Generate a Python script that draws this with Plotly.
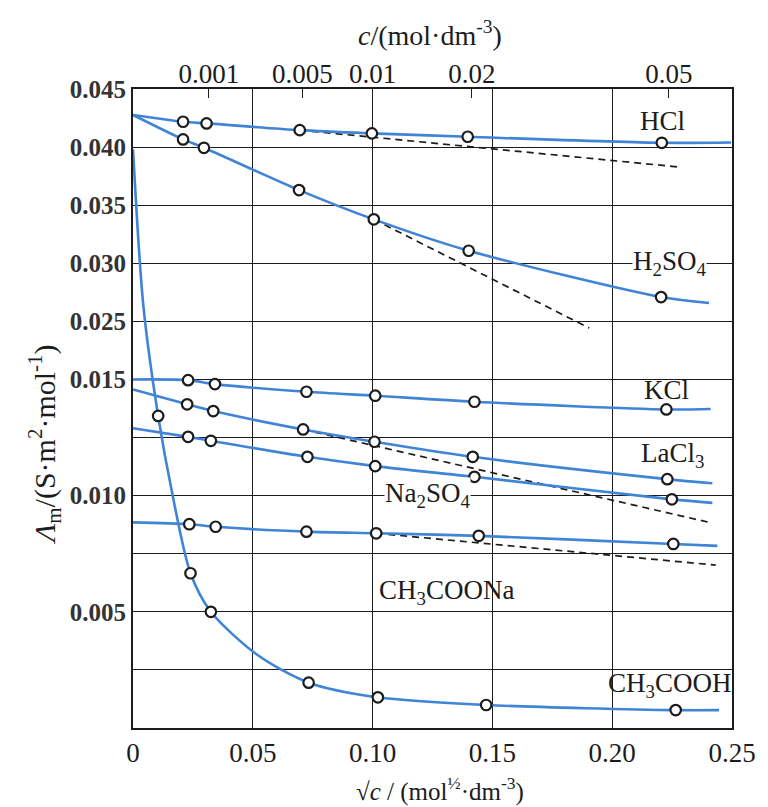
import numpy as np
import plotly.graph_objects as go

# ---------------- axis data ----------------
c_ticks = [0.001, 0.005, 0.01, 0.02, 0.05]
c_labels = ["0.001", "0.005", "0.01", "0.02", "0.05"]
x_ticks = [0, 0.05, 0.10, 0.15, 0.20, 0.25]
x_labels = ["0", "0.05", "0.10", "0.15", "0.20", "0.25"]
y_major = [0.005, 0.010, 0.015, 0.025, 0.030, 0.035, 0.040, 0.045]
y_labels = ["0.005", "0.010", "0.015", "0.025", "0.030", "0.035", "0.040", "0.045"]
y_minor = [0.0025, 0.0075, 0.0125]

# ---------------- series data (sqrt(c), Lambda_m) ----------------
hcl_x = [0.0209, 0.0307, 0.0696, 0.0997, 0.1397, 0.2207]
hcl_y = [0.04218, 0.04204, 0.04146, 0.04118, 0.04089, 0.04037]
hcl_ends = [(0.0, 0.04276), (0.2496, 0.04040)]

h2so4_x = [0.0209, 0.0296, 0.0693, 0.1005, 0.1401, 0.2204]
h2so4_y = [0.04066, 0.03994, 0.03630, 0.03378, 0.03108, 0.02709]
h2so4_ends = [(0.0, 0.04276), (0.2404, 0.02658)]

kcl_x = [0.0230, 0.0342, 0.0724, 0.1011, 0.1425, 0.2226]
kcl_y = [0.01497, 0.01480, 0.01447, 0.01430, 0.01404, 0.01371]
kcl_ends = [(0.0, 0.01500), (0.2411, 0.01373)]

lacl3_x = [0.0226, 0.0335, 0.0710, 0.1008, 0.1418, 0.2230]
lacl3_y = [0.01393, 0.01364, 0.01285, 0.01232, 0.01167, 0.01071]
lacl3_ends = [(0.0, 0.01457), (0.2418, 0.01053)]

na2so4_x = [0.0230, 0.0325, 0.0728, 0.1011, 0.1425, 0.2249]
na2so4_y = [0.01253, 0.01236, 0.01167, 0.01127, 0.01081, 0.00984]
na2so4_ends = [(0.0, 0.01290), (0.2418, 0.00969)]

ch3coona_x = [0.0235, 0.0345, 0.0724, 0.1015, 0.1443, 0.2255]
ch3coona_y = [0.00877, 0.00866, 0.00845, 0.00838, 0.00827, 0.00792]
ch3coona_ends = [(0.0, 0.00885), (0.2439, 0.00784)]

ch3cooh_x = [0.0105, 0.0240, 0.0325, 0.0733, 0.1022, 0.1474, 0.2265]
ch3cooh_y = [0.01343, 0.00666, 0.00500, 0.00195, 0.00132, 0.00099, 0.00077]
# points (incl. its steep part)
ch3cooh_curve_x = [0.0, 0.0043, 0.0105, 0.0161, 0.0240, 0.0325, 0.0520, 0.0733, 0.1022, 0.1474, 0.2265, 0.2446]
ch3cooh_curve_y = [0.0398, 0.02640, 0.01343, 0.01024, 0.00666, 0.00500, 0.00314, 0.00195, 0.00132, 0.00099, 0.00077, 0.00077]

# limiting-law dashed lines (start, end)
hcl_dash = [(0.0696, 0.04146), (0.2272, 0.03830)]
h2so4_dash = [(0.1005, 0.03378), (0.1904, 0.02385)]
lacl3_dash = [(0.0710, 0.01285), (0.2418, 0.00882)]
ch3coona_dash = [(0.1015, 0.00838), (0.2432, 0.00701)]

# curve labels: (text, sqrt(c), Lambda_m, white background)
labels = [
    ("HCl", 0.221, 0.04225, False),
    ("H<sub>2</sub>SO<sub>4</sub>", 0.2238, 0.03001, True),
    ("KCl", 0.2225, 0.01454, False),
    ("LaCl<sub>3</sub>", 0.225, 0.01175, False),
    ("Na<sub>2</sub>SO<sub>4</sub>", 0.1229, 0.01003, True),
    ("CH<sub>3</sub>COONa", 0.131, 0.00585, False),
    ("CH<sub>3</sub>COOH", 0.2238, 0.00185, False),
]


# broken (piecewise linear) Lambda axis: 0-0.015 | gap | 0.025-0.045
def T(v):
    v = np.asarray(v, dtype=float)
    return np.where(v <= 0.015, v / 0.0025,
                    np.where(v >= 0.025, 7 + (v - 0.025) / 0.005, 6 + (v - 0.015) / 0.010))


BLUE = "#3F84D6"
INK = "#1c1c1c"
SERIF = "Liberation Serif, Times New Roman, serif"

fig = go.Figure()

for d in [hcl_dash, h2so4_dash, lacl3_dash, ch3coona_dash]:
    xs = [p[0] for p in d]
    ys = [p[1] for p in d]
    fig.add_trace(go.Scatter(x=xs, y=T(ys), mode="lines",
                             line=dict(color=INK, width=1.7, dash="7px,5px"),
                             hoverinfo="skip", showlegend=False))

series = [
    (hcl_x, hcl_y, hcl_ends),
    (h2so4_x, h2so4_y, h2so4_ends),
    (kcl_x, kcl_y, kcl_ends),
    (lacl3_x, lacl3_y, lacl3_ends),
    (na2so4_x, na2so4_y, na2so4_ends),
    (ch3coona_x, ch3coona_y, ch3coona_ends),
]
for xs, ys, ends in series:
    cx = [ends[0][0]] + xs + [ends[1][0]]
    cy = [ends[0][1]] + ys + [ends[1][1]]
    fig.add_trace(go.Scatter(x=cx, y=T(cy), mode="lines",
                             line=dict(color=BLUE, width=2.6, shape="spline", smoothing=0.8),
                             hoverinfo="skip", showlegend=False))
fig.add_trace(go.Scatter(x=ch3cooh_curve_x, y=T(ch3cooh_curve_y), mode="lines",
                         line=dict(color=BLUE, width=2.6, shape="spline", smoothing=0.8),
                         hoverinfo="skip", showlegend=False))

for xs, ys in [(hcl_x, hcl_y), (h2so4_x, h2so4_y), (kcl_x, kcl_y), (lacl3_x, lacl3_y),
               (na2so4_x, na2so4_y), (ch3coona_x, ch3coona_y), (ch3cooh_x, ch3cooh_y)]:
    fig.add_trace(go.Scatter(x=xs, y=T(ys), mode="markers",
                             marker=dict(symbol="circle", size=10.5, color="white",
                                         line=dict(color=INK, width=2.2)),
                             showlegend=False))

# invisible trace to carry the top concentration axis
fig.add_trace(go.Scatter(x=np.sqrt(c_ticks), y=[0] * len(c_ticks), xaxis="x2",
                         mode="markers", marker=dict(opacity=0), hoverinfo="skip",
                         showlegend=False))

annotations = []
for txt, lx, ly, bg in labels:
    annotations.append(dict(x=lx, y=float(T(ly)), xref="x", yref="y", text=txt, showarrow=False,
                            font=dict(family=SERIF, size=27, color=INK),
                            bgcolor="white" if bg else None, borderpad=0,
                            xanchor="center", yanchor="middle"))

annotations += [
    dict(x=0.496, y=1.0876, xref="paper", yref="paper", showarrow=False,
         xanchor="center", yanchor="middle",
         text="<i>c</i>/(mol·dm<sup>-3</sup>)",
         font=dict(family=SERIF, size=28, color=INK)),
    dict(x=0.5125, y=-0.097, xref="paper", yref="paper", showarrow=False,
         xanchor="center", yanchor="middle",
         text="√<i>c</i> / (mol<sup>½</sup>·dm<sup>-3</sup>)",
         font=dict(family=SERIF, size=25, color=INK)),
    dict(x=-0.147, y=0.443, xref="paper", yref="paper", showarrow=False, textangle=-90,
         xanchor="center", yanchor="middle",
         text="<i>Λ</i><sub>m</sub>/(S·m<sup>2</sup>·mol<sup>-1</sup>)",
         font=dict(family=SERIF, size=30, color=INK)),
]

fig.update_layout(
    width=760, height=799,
    margin=dict(l=125, r=36, t=81, b=79),
    paper_bgcolor="white", plot_bgcolor="white",
    showlegend=False,
    xaxis=dict(range=[0, 0.25], tickvals=x_ticks, ticktext=x_labels,
               showgrid=True, gridcolor=INK, gridwidth=1.4,
               showline=True, linecolor=INK, linewidth=1.8, mirror=True,
               zeroline=False, ticks="",
               tickfont=dict(family=SERIF, size=27, color=INK)),
    xaxis2=dict(range=[0, 0.25], overlaying="x", side="top",
                tickvals=list(np.sqrt(c_ticks)), ticktext=c_labels,
                ticks="inside", ticklen=9, tickwidth=1.4, tickcolor=INK,
                showgrid=False, zeroline=False, showline=False,
                tickfont=dict(family=SERIF, size=27, color=INK)),
    yaxis=dict(range=[0, 11], tickvals=list(T(y_major)), ticktext=y_labels,
               showgrid=True, gridcolor=INK, gridwidth=1.4,
               minor=dict(tickvals=list(T(y_minor)), showgrid=True, gridcolor=INK,
                          gridwidth=1.4, ticks=""),
               showline=True, linecolor=INK, linewidth=1.8, mirror=True,
               zeroline=False, ticks="",
               tickfont=dict(family=SERIF, size=25, color="#333", weight="bold")),
    annotations=annotations,
)

fig.write_html("out.html")
